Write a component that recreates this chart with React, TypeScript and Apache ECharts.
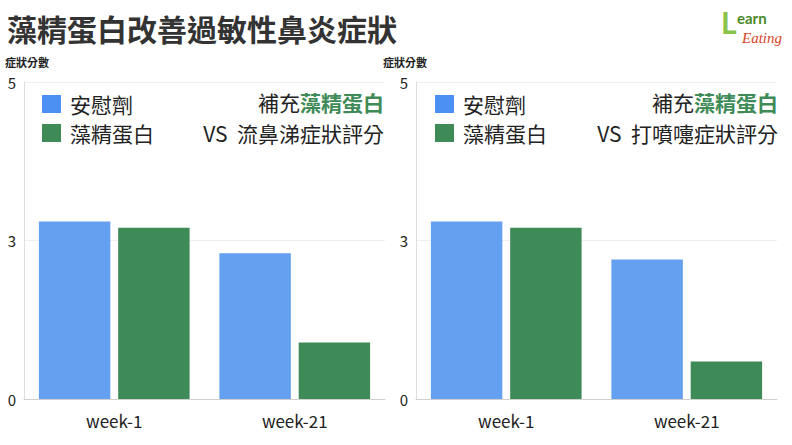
import React, { useEffect, useRef } from "react";
import * as echarts from "echarts";

const categories = ["week-1", "week-21"];
const placeboRunny = [2.8, 2.3];
const algaeRunny = [2.7, 0.89];
const placeboSneeze = [2.8, 2.2];
const algaeSneeze = [2.7, 0.59];
const yTickValues = [0, 2.5, 5];
const yTickLabels = ["0", "3", "5"];
const seriesNames = ["安慰劑", "藻精蛋白"];
const title = "藻精蛋白改善過敏性鼻炎症狀";
const yAxisName = "症狀分數";
const panelTitles = ["VS  流鼻涕症狀評分", "VS  打噴嚏症狀評分"];

const BLUE = "#659ff0";
const GREEN = "#3e8b58";
const LEGEND_BLUE = "#4d90f4";
const CJK = '"Noto Sans CJK TC", "Noto Sans", sans-serif';

export default function App() {
  const ref = useRef<HTMLDivElement>(null);
  useEffect(() => {
    if (!ref.current) return;
    const chart = echarts.init(ref.current, null, { renderer: "svg" });
    const grids = [
      { left: 24, top: 82, width: 361, height: 317 },
      { left: 416, top: 82, width: 361, height: 317 },
    ];
    const fmt = (v: number) => {
      const i = yTickValues.indexOf(v);
      return i >= 0 ? yTickLabels[i] : "";
    };
    const xAxes = grids.map((_, i) => ({
      type: "category",
      gridIndex: i,
      data: categories,
      axisLine: { lineStyle: { color: "#cfcfcf" } },
      axisTick: { show: false },
      axisLabel: { color: "#222", fontSize: 17, margin: 13, fontFamily: CJK },
    }));
    const yAxes = grids.map((_, i) => ({
      type: "value",
      gridIndex: i,
      min: 0,
      max: 5,
      interval: 2.5,
      axisLine: { show: true, lineStyle: { color: "#dedede" } },
      axisTick: { show: false },
      axisLabel: { color: "#222", fontSize: 15, margin: 8, formatter: fmt, fontFamily: CJK },
      splitLine: { lineStyle: { color: "#efefef" } },
    }));
    const mk = (name: string, data: number[], color: string, idx: number) => ({
      type: "bar",
      name,
      xAxisIndex: idx,
      yAxisIndex: idx,
      data,
      barCategoryGap: "16.5%",
      barGap: "11%",
      itemStyle: { color },
    });
    const legendGraphic = (x0: number, rightX: number, title2: string) => [
      { type: "rect", shape: { x: x0, y: 95, width: 19, height: 18 }, style: { fill: LEGEND_BLUE } },
      { type: "rect", shape: { x: x0, y: 124, width: 19, height: 18 }, style: { fill: GREEN } },
      {
        type: "text", x: x0 + 28, y: 104,
        style: { text: seriesNames[0], fontSize: 21, fill: "#222", fontFamily: CJK, verticalAlign: "middle" },
      },
      {
        type: "text", x: x0 + 28, y: 133,
        style: { text: seriesNames[1], fontSize: 21, fill: "#222", fontFamily: CJK, verticalAlign: "middle" },
      },
      {
        type: "text", x: rightX, y: 102,
        style: {
          text: "{a|補充}{b|藻精蛋白}", align: "right", verticalAlign: "middle",
          rich: {
            a: { fontSize: 21, fill: "#222", color: "#222", fontFamily: CJK },
            b: { fontSize: 21, fill: "#3e8b58", color: "#3e8b58", fontFamily: CJK, fontWeight: "bold" },
          },
        },
      },
      {
        type: "text", x: rightX, y: 133,
        style: { text: title2, fontSize: 21, fill: "#222", fontFamily: CJK, align: "right", verticalAlign: "middle" },
      },
    ];
    chart.setOption({
      animation: false,
      backgroundColor: "#ffffff",
      grid: grids,
      xAxis: xAxes,
      yAxis: yAxes,
      series: [
        mk(seriesNames[0], placeboRunny, BLUE, 0),
        mk(seriesNames[1], algaeRunny, GREEN, 0),
        mk(seriesNames[0], placeboSneeze, BLUE, 1),
        mk(seriesNames[1], algaeSneeze, GREEN, 1),
      ],
      graphic: [
        {
          type: "text", x: 7, y: 28,
          style: { text: title, fontSize: 30, fontWeight: "bold", fill: "#333", fontFamily: CJK, verticalAlign: "middle" },
        },
        {
          type: "text", x: 5, y: 62,
          style: { text: yAxisName, fontSize: 11, fill: "#222", fontFamily: CJK, verticalAlign: "middle", fontWeight: "bold" },
        },
        {
          type: "text", x: 383, y: 62,
          style: { text: yAxisName, fontSize: 11, fill: "#222", fontFamily: CJK, verticalAlign: "middle", fontWeight: "bold" },
        },
        ...legendGraphic(42, 384, panelTitles[0]),
        ...legendGraphic(435, 778, panelTitles[1]),
        {
          type: "text", x: 721, y: 22,
          style: { text: "L", fontSize: 30, fontWeight: "bold", fill: "#8bc34a", fontFamily: "Lato, sans-serif", verticalAlign: "middle" },
        },
        {
          type: "text", x: 737, y: 18,
          style: { text: "earn", fontSize: 15, fontWeight: "bold", fill: "#4a8a2a", fontFamily: "Lato, sans-serif", verticalAlign: "middle" },
        },
        {
          type: "text", x: 742, y: 38,
          style: { text: "Eating", fontSize: 15, fontStyle: "italic", fill: "#d9462a", fontFamily: '"Liberation Serif", serif', verticalAlign: "middle" },
        },
      ],
    });
    return () => chart.dispose();
  }, []);
  return (
    <div
      ref={ref}
      style={{ position: "fixed", left: 0, top: 0, width: 792, height: 445, background: "#fff" }}
    />
  );
}
